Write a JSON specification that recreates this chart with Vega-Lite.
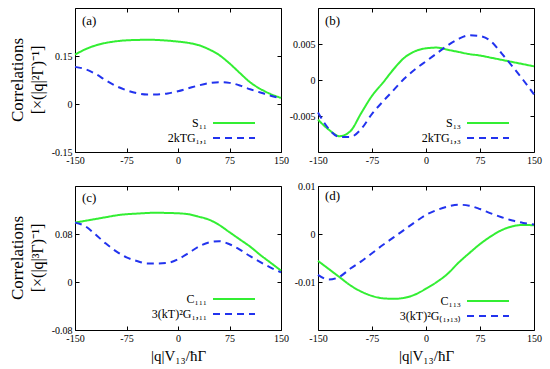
{
  "$schema": "https://vega.github.io/schema/vega-lite/v6.json",
  "padding": {"left": 8, "top": 7, "right": 5, "bottom": 0},
  "config": {
    "font": "Liberation Serif",
    "view": {"stroke": "black", "strokeWidth": 1},
    "axis": {"domain": false, "grid": false, "tickSize": -4, "tickColor": "black", "labelFont": "Liberation Serif", "labelFontSize": 10, "labelColor": "black", "labelPadding": 7, "labelFlush": false, "labelOverlap": false, "titleFont": "Liberation Serif", "titleFontWeight": "normal", "titleFontSize": 15, "titleColor": "black", "titlePadding": 5},
    "legend": {"orient": "none", "padding": 0, "symbolType": "M-3.5,0H3.5", "symbolSize": 144, "symbolStrokeWidth": 2, "labelAlign": "right", "labelOffset": -34, "labelFont": "Liberation Serif", "labelFontSize": 12, "labelColor": "black", "rowPadding": 2}
  },
  "datasets": {
    "a": [
      {"s":"S₁₁","x":-150,"y":0.154},{"s":"S₁₁","x":-135,"y":0.171},{"s":"S₁₁","x":-120,"y":0.183},{"s":"S₁₁","x":-105,"y":0.191},{"s":"S₁₁","x":-90,"y":0.196},{"s":"S₁₁","x":-75,"y":0.199},{"s":"S₁₁","x":-60,"y":0.200},{"s":"S₁₁","x":-45,"y":0.201},{"s":"S₁₁","x":-30,"y":0.200},{"s":"S₁₁","x":-15,"y":0.198},{"s":"S₁₁","x":0,"y":0.195},{"s":"S₁₁","x":15,"y":0.191},{"s":"S₁₁","x":30,"y":0.184},{"s":"S₁₁","x":45,"y":0.171},{"s":"S₁₁","x":60,"y":0.153},{"s":"S₁₁","x":75,"y":0.127},{"s":"S₁₁","x":90,"y":0.097},{"s":"S₁₁","x":105,"y":0.068},{"s":"S₁₁","x":120,"y":0.047},{"s":"S₁₁","x":135,"y":0.031},{"s":"S₁₁","x":150,"y":0.019},
      {"s":"2kTG₁,₁","x":-150,"y":0.116},{"s":"2kTG₁,₁","x":-135,"y":0.109},{"s":"2kTG₁,₁","x":-120,"y":0.094},{"s":"2kTG₁,₁","x":-105,"y":0.074},{"s":"2kTG₁,₁","x":-90,"y":0.056},{"s":"2kTG₁,₁","x":-75,"y":0.043},{"s":"2kTG₁,₁","x":-60,"y":0.034},{"s":"2kTG₁,₁","x":-45,"y":0.030},{"s":"2kTG₁,₁","x":-30,"y":0.030},{"s":"2kTG₁,₁","x":-15,"y":0.033},{"s":"2kTG₁,₁","x":0,"y":0.040},{"s":"2kTG₁,₁","x":15,"y":0.049},{"s":"2kTG₁,₁","x":30,"y":0.058},{"s":"2kTG₁,₁","x":45,"y":0.065},{"s":"2kTG₁,₁","x":60,"y":0.068},{"s":"2kTG₁,₁","x":75,"y":0.066},{"s":"2kTG₁,₁","x":90,"y":0.058},{"s":"2kTG₁,₁","x":105,"y":0.046},{"s":"2kTG₁,₁","x":120,"y":0.036},{"s":"2kTG₁,₁","x":135,"y":0.026},{"s":"2kTG₁,₁","x":150,"y":0.017}
    ],
    "b": [
      {"s":"S₁₃","x":-150,"y":-0.0055},{"s":"S₁₃","x":-135,"y":-0.0069},{"s":"S₁₃","x":-120,"y":-0.0078},{"s":"S₁₃","x":-105,"y":-0.0071},{"s":"S₁₃","x":-90,"y":-0.0046},{"s":"S₁₃","x":-75,"y":-0.0022},{"s":"S₁₃","x":-60,"y":-0.0004},{"s":"S₁₃","x":-45,"y":0.0015},{"s":"S₁₃","x":-30,"y":0.0031},{"s":"S₁₃","x":-15,"y":0.0040},{"s":"S₁₃","x":0,"y":0.0044},{"s":"S₁₃","x":15,"y":0.0045},{"s":"S₁₃","x":30,"y":0.0042},{"s":"S₁₃","x":45,"y":0.0039},{"s":"S₁₃","x":60,"y":0.0036},{"s":"S₁₃","x":75,"y":0.0034},{"s":"S₁₃","x":90,"y":0.0031},{"s":"S₁₃","x":105,"y":0.0028},{"s":"S₁₃","x":120,"y":0.0025},{"s":"S₁₃","x":135,"y":0.0022},{"s":"S₁₃","x":150,"y":0.0019},
      {"s":"2kTG₁,₃","x":-150,"y":-0.0045},{"s":"2kTG₁,₃","x":-135,"y":-0.0068},{"s":"2kTG₁,₃","x":-120,"y":-0.0079},{"s":"2kTG₁,₃","x":-105,"y":-0.0079},{"s":"2kTG₁,₃","x":-90,"y":-0.0068},{"s":"2kTG₁,₃","x":-75,"y":-0.0047},{"s":"2kTG₁,₃","x":-60,"y":-0.0030},{"s":"2kTG₁,₃","x":-45,"y":-0.0014},{"s":"2kTG₁,₃","x":-30,"y":0.0002},{"s":"2kTG₁,₃","x":-15,"y":0.0015},{"s":"2kTG₁,₃","x":0,"y":0.0026},{"s":"2kTG₁,₃","x":15,"y":0.0037},{"s":"2kTG₁,₃","x":30,"y":0.0048},{"s":"2kTG₁,₃","x":45,"y":0.0057},{"s":"2kTG₁,₃","x":60,"y":0.0062},{"s":"2kTG₁,₃","x":75,"y":0.0061},{"s":"2kTG₁,₃","x":90,"y":0.0054},{"s":"2kTG₁,₃","x":105,"y":0.0037},{"s":"2kTG₁,₃","x":120,"y":0.0019},{"s":"2kTG₁,₃","x":135,"y":0.0000},{"s":"2kTG₁,₃","x":150,"y":-0.0020}
    ],
    "c": [
      {"s":"C₁₁₁","x":-150,"y":0.099},{"s":"C₁₁₁","x":-135,"y":0.102},{"s":"C₁₁₁","x":-120,"y":0.105},{"s":"C₁₁₁","x":-105,"y":0.108},{"s":"C₁₁₁","x":-90,"y":0.111},{"s":"C₁₁₁","x":-75,"y":0.113},{"s":"C₁₁₁","x":-60,"y":0.114},{"s":"C₁₁₁","x":-45,"y":0.115},{"s":"C₁₁₁","x":-30,"y":0.1155},{"s":"C₁₁₁","x":-15,"y":0.115},{"s":"C₁₁₁","x":0,"y":0.1145},{"s":"C₁₁₁","x":15,"y":0.113},{"s":"C₁₁₁","x":30,"y":0.109},{"s":"C₁₁₁","x":45,"y":0.104},{"s":"C₁₁₁","x":60,"y":0.095},{"s":"C₁₁₁","x":75,"y":0.083},{"s":"C₁₁₁","x":90,"y":0.071},{"s":"C₁₁₁","x":105,"y":0.059},{"s":"C₁₁₁","x":120,"y":0.045},{"s":"C₁₁₁","x":135,"y":0.032},{"s":"C₁₁₁","x":150,"y":0.019},
      {"s":"3(kT)²G₁,₁₁","x":-150,"y":0.099},{"s":"3(kT)²G₁,₁₁","x":-135,"y":0.093},{"s":"3(kT)²G₁,₁₁","x":-120,"y":0.079},{"s":"3(kT)²G₁,₁₁","x":-105,"y":0.064},{"s":"3(kT)²G₁,₁₁","x":-90,"y":0.051},{"s":"3(kT)²G₁,₁₁","x":-75,"y":0.041},{"s":"3(kT)²G₁,₁₁","x":-60,"y":0.035},{"s":"3(kT)²G₁,₁₁","x":-45,"y":0.031},{"s":"3(kT)²G₁,₁₁","x":-30,"y":0.031},{"s":"3(kT)²G₁,₁₁","x":-15,"y":0.032},{"s":"3(kT)²G₁,₁₁","x":0,"y":0.038},{"s":"3(kT)²G₁,₁₁","x":15,"y":0.048},{"s":"3(kT)²G₁,₁₁","x":30,"y":0.059},{"s":"3(kT)²G₁,₁₁","x":45,"y":0.066},{"s":"3(kT)²G₁,₁₁","x":60,"y":0.068},{"s":"3(kT)²G₁,₁₁","x":75,"y":0.063},{"s":"3(kT)²G₁,₁₁","x":90,"y":0.054},{"s":"3(kT)²G₁,₁₁","x":105,"y":0.043},{"s":"3(kT)²G₁,₁₁","x":120,"y":0.033},{"s":"3(kT)²G₁,₁₁","x":135,"y":0.024},{"s":"3(kT)²G₁,₁₁","x":150,"y":0.016}
    ],
    "d": [
      {"s":"C₁₁₃","x":-150,"y":-0.0056},{"s":"C₁₁₃","x":-135,"y":-0.0073},{"s":"C₁₁₃","x":-120,"y":-0.0090},{"s":"C₁₁₃","x":-105,"y":-0.0107},{"s":"C₁₁₃","x":-90,"y":-0.0120},{"s":"C₁₁₃","x":-75,"y":-0.0129},{"s":"C₁₁₃","x":-60,"y":-0.0134},{"s":"C₁₁₃","x":-45,"y":-0.0135},{"s":"C₁₁₃","x":-30,"y":-0.0133},{"s":"C₁₁₃","x":-15,"y":-0.0126},{"s":"C₁₁₃","x":0,"y":-0.0114},{"s":"C₁₁₃","x":15,"y":-0.0100},{"s":"C₁₁₃","x":30,"y":-0.0083},{"s":"C₁₁₃","x":45,"y":-0.0060},{"s":"C₁₁₃","x":60,"y":-0.0040},{"s":"C₁₁₃","x":75,"y":-0.0021},{"s":"C₁₁₃","x":90,"y":-0.0005},{"s":"C₁₁₃","x":105,"y":0.0008},{"s":"C₁₁₃","x":120,"y":0.0016},{"s":"C₁₁₃","x":135,"y":0.0019},{"s":"C₁₁₃","x":150,"y":0.0018},
      {"s":"3(kT)²G₍₁,₁₃₎","x":-150,"y":-0.0085},{"s":"3(kT)²G₍₁,₁₃₎","x":-135,"y":-0.0095},{"s":"3(kT)²G₍₁,₁₃₎","x":-120,"y":-0.0089},{"s":"3(kT)²G₍₁,₁₃₎","x":-105,"y":-0.0072},{"s":"3(kT)²G₍₁,₁₃₎","x":-90,"y":-0.0057},{"s":"3(kT)²G₍₁,₁₃₎","x":-75,"y":-0.0040},{"s":"3(kT)²G₍₁,₁₃₎","x":-60,"y":-0.0023},{"s":"3(kT)²G₍₁,₁₃₎","x":-45,"y":-0.0007},{"s":"3(kT)²G₍₁,₁₃₎","x":-30,"y":0.0009},{"s":"3(kT)²G₍₁,₁₃₎","x":-15,"y":0.0025},{"s":"3(kT)²G₍₁,₁₃₎","x":0,"y":0.0040},{"s":"3(kT)²G₍₁,₁₃₎","x":15,"y":0.0050},{"s":"3(kT)²G₍₁,₁₃₎","x":30,"y":0.0057},{"s":"3(kT)²G₍₁,₁₃₎","x":45,"y":0.0061},{"s":"3(kT)²G₍₁,₁₃₎","x":60,"y":0.0059},{"s":"3(kT)²G₍₁,₁₃₎","x":75,"y":0.0052},{"s":"3(kT)²G₍₁,₁₃₎","x":90,"y":0.0043},{"s":"3(kT)²G₍₁,₁₃₎","x":105,"y":0.0035},{"s":"3(kT)²G₍₁,₁₃₎","x":120,"y":0.0028},{"s":"3(kT)²G₍₁,₁₃₎","x":135,"y":0.0023},{"s":"3(kT)²G₍₁,₁₃₎","x":150,"y":0.0020}
    ]
  },
  "columns": 2,
  "align": "each",
  "bounds": "flush",
  "spacing": {"row": 34, "column": 37},
  "resolve": {"scale": {"color": "independent", "strokeDash": "independent"}},
  "concat": [
    {
      "width": 206, "height": 144,
      "title": {"text": "Correlations", "subtitle": "[×(|q|²Γ)⁻¹]", "orient": "left", "anchor": "middle", "frame": "group", "fontSize": 17, "subtitleFontSize": 16, "font": "Liberation Serif", "subtitleFont": "Liberation Serif", "fontWeight": "normal", "color": "black", "subtitleColor": "black", "subtitlePadding": 3, "offset": 4},
      "layer": [
        {"data": {"name": "a"},
         "mark": {"type": "line", "strokeWidth": 2, "interpolate": "monotone"},
         "encoding": {
           "x": {"field": "x", "type": "quantitative", "scale": {"domain": [-150, 150], "nice": false}, "axis": {"values": [-150, -75, 0, 75, 150], "title": null, "labelExpr": "replace(datum.label, '−', '-')"}},
           "y": {"field": "y", "type": "quantitative", "scale": {"domain": [-0.15, 0.3], "nice": false, "zero": false}, "axis": {"values": [-0.15, 0, 0.15], "format": ".2~f", "title": null, "labelExpr": "replace(datum.label, '−', '-')"}},
           "color": {"field": "s", "type": "nominal", "scale": {"domain": ["S₁₁", "2kTG₁,₁"], "range": ["#33ee33", "#2233ee"]}, "legend": {"title": null, "legendX": 152, "legendY": 108}},
           "strokeDash": {"field": "s", "type": "nominal", "scale": {"domain": ["S₁₁", "2kTG₁,₁"], "range": [[1, 0], [7, 5]]}, "legend": {"title": null, "legendX": 152, "legendY": 108}}
         }},
        {"data": {"name": "a"},
         "mark": {"type": "line", "opacity": 0},
         "encoding": {
           "x": {"field": "x", "type": "quantitative", "axis": {"orient": "top", "values": [-150, -75, 0, 75, 150], "labels": false, "title": null}},
           "y": {"field": "y", "type": "quantitative", "axis": {"orient": "right", "values": [-0.15, 0, 0.15], "labels": false, "title": null}}
         }},
        {"data": {"values": [{"label": "(a)"}]},
         "mark": {"type": "text", "align": "left", "baseline": "middle", "dx": 7, "dy": 13, "fontSize": 13, "font": "Liberation Serif", "color": "black"},
         "encoding": {"text": {"field": "label"}, "x": {"datum": -150, "type": "quantitative", "axis": null}, "y": {"datum": 0.3, "type": "quantitative", "axis": null}}}
      ],
      "resolve": {"axis": {"x": "independent", "y": "independent"}}
    },
    {
      "width": 216, "height": 144,
      "layer": [
        {"data": {"name": "b"},
         "mark": {"type": "line", "strokeWidth": 2, "interpolate": "monotone"},
         "encoding": {
           "x": {"field": "x", "type": "quantitative", "scale": {"domain": [-150, 150], "nice": false}, "axis": {"values": [-150, -75, 0, 75, 150], "title": null, "labelExpr": "replace(datum.label, '−', '-')"}},
           "y": {"field": "y", "type": "quantitative", "scale": {"domain": [-0.01, 0.01], "nice": false, "zero": false}, "axis": {"values": [-0.005, 0, 0.005], "format": ".3~f", "title": null, "labelExpr": "replace(datum.label, '−', '-')"}},
           "color": {"field": "s", "type": "nominal", "scale": {"domain": ["S₁₃", "2kTG₁,₃"], "range": ["#33ee33", "#2233ee"]}, "legend": {"title": null, "legendX": 163, "legendY": 108}},
           "strokeDash": {"field": "s", "type": "nominal", "scale": {"domain": ["S₁₃", "2kTG₁,₃"], "range": [[1, 0], [7, 5]]}, "legend": {"title": null, "legendX": 163, "legendY": 108}}
         }},
        {"data": {"name": "b"},
         "mark": {"type": "line", "opacity": 0},
         "encoding": {
           "x": {"field": "x", "type": "quantitative", "axis": {"orient": "top", "values": [-150, -75, 0, 75, 150], "labels": false, "title": null}},
           "y": {"field": "y", "type": "quantitative", "axis": {"orient": "right", "values": [-0.005, 0, 0.005], "labels": false, "title": null}}
         }},
        {"data": {"values": [{"label": "(b)"}]},
         "mark": {"type": "text", "align": "left", "baseline": "middle", "dx": 7, "dy": 13, "fontSize": 13, "font": "Liberation Serif", "color": "black"},
         "encoding": {"text": {"field": "label"}, "x": {"datum": -150, "type": "quantitative", "axis": null}, "y": {"datum": 0.01, "type": "quantitative", "axis": null}}}
      ],
      "resolve": {"axis": {"x": "independent", "y": "independent"}}
    },
    {
      "width": 206, "height": 144,
      "title": {"text": "Correlations", "subtitle": "[×(|q|³Γ)⁻¹]", "orient": "left", "anchor": "middle", "frame": "group", "fontSize": 17, "subtitleFontSize": 16, "font": "Liberation Serif", "subtitleFont": "Liberation Serif", "fontWeight": "normal", "color": "black", "subtitleColor": "black", "subtitlePadding": 3, "offset": 4},
      "layer": [
        {"data": {"name": "c"},
         "mark": {"type": "line", "strokeWidth": 2, "interpolate": "monotone"},
         "encoding": {
           "x": {"field": "x", "type": "quantitative", "scale": {"domain": [-150, 150], "nice": false}, "axis": {"values": [-150, -75, 0, 75, 150], "title": "|q|V₁₃/ħΓ", "labelExpr": "replace(datum.label, '−', '-')"}},
           "y": {"field": "y", "type": "quantitative", "scale": {"domain": [-0.08, 0.16], "nice": false, "zero": false}, "axis": {"values": [-0.08, 0, 0.08], "format": ".2~f", "title": null, "labelExpr": "replace(datum.label, '−', '-')"}},
           "color": {"field": "s", "type": "nominal", "scale": {"domain": ["C₁₁₁", "3(kT)²G₁,₁₁"], "range": ["#33ee33", "#2233ee"]}, "legend": {"title": null, "legendX": 152, "legendY": 106}},
           "strokeDash": {"field": "s", "type": "nominal", "scale": {"domain": ["C₁₁₁", "3(kT)²G₁,₁₁"], "range": [[1, 0], [7, 5]]}, "legend": {"title": null, "legendX": 152, "legendY": 106}}
         }},
        {"data": {"name": "c"},
         "mark": {"type": "line", "opacity": 0},
         "encoding": {
           "x": {"field": "x", "type": "quantitative", "axis": {"orient": "top", "values": [-150, -75, 0, 75, 150], "labels": false, "title": null}},
           "y": {"field": "y", "type": "quantitative", "axis": {"orient": "right", "values": [-0.08, 0, 0.08], "labels": false, "title": null}}
         }},
        {"data": {"values": [{"label": "(c)"}]},
         "mark": {"type": "text", "align": "left", "baseline": "middle", "dx": 7, "dy": 12, "fontSize": 13, "font": "Liberation Serif", "color": "black"},
         "encoding": {"text": {"field": "label"}, "x": {"datum": -150, "type": "quantitative", "axis": null}, "y": {"datum": 0.16, "type": "quantitative", "axis": null}}}
      ],
      "resolve": {"axis": {"x": "independent", "y": "independent"}}
    },
    {
      "width": 216, "height": 144,
      "layer": [
        {"data": {"name": "d"},
         "mark": {"type": "line", "strokeWidth": 2, "interpolate": "monotone"},
         "encoding": {
           "x": {"field": "x", "type": "quantitative", "scale": {"domain": [-150, 150], "nice": false}, "axis": {"values": [-150, -75, 0, 75, 150], "title": "|q|V₁₃/ħΓ", "labelExpr": "replace(datum.label, '−', '-')"}},
           "y": {"field": "y", "type": "quantitative", "scale": {"domain": [-0.02, 0.01], "nice": false, "zero": false}, "axis": {"values": [-0.01, 0, 0.01], "format": ".2~f", "title": null, "labelExpr": "replace(datum.label, '−', '-')"}},
           "color": {"field": "s", "type": "nominal", "scale": {"domain": ["C₁₁₃", "3(kT)²G₍₁,₁₃₎"], "range": ["#33ee33", "#2233ee"]}, "legend": {"title": null, "legendX": 163, "legendY": 108}},
           "strokeDash": {"field": "s", "type": "nominal", "scale": {"domain": ["C₁₁₃", "3(kT)²G₍₁,₁₃₎"], "range": [[1, 0], [7, 5]]}, "legend": {"title": null, "legendX": 163, "legendY": 108}}
         }},
        {"data": {"name": "d"},
         "mark": {"type": "line", "opacity": 0},
         "encoding": {
           "x": {"field": "x", "type": "quantitative", "axis": {"orient": "top", "values": [-150, -75, 0, 75, 150], "labels": false, "title": null}},
           "y": {"field": "y", "type": "quantitative", "axis": {"orient": "right", "values": [-0.01, 0, 0.01], "labels": false, "title": null}}
         }},
        {"data": {"values": [{"label": "(d)"}]},
         "mark": {"type": "text", "align": "left", "baseline": "middle", "dx": 7, "dy": 10, "fontSize": 13, "font": "Liberation Serif", "color": "black"},
         "encoding": {"text": {"field": "label"}, "x": {"datum": -150, "type": "quantitative", "axis": null}, "y": {"datum": 0.01, "type": "quantitative", "axis": null}}}
      ],
      "resolve": {"axis": {"x": "independent", "y": "independent"}}
    }
  ]
}
